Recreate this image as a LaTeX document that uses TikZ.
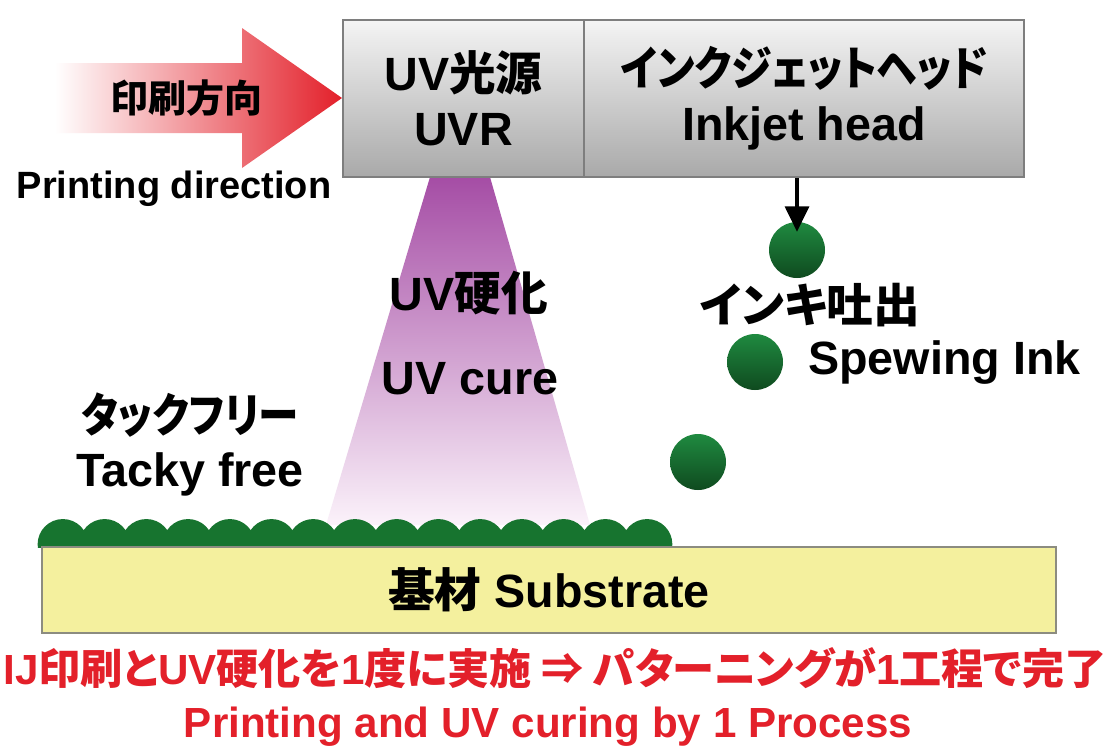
\documentclass[tikz,border=0pt]{standalone}
\usepackage{graphicx}
\usepackage{fontspec}
\setmainfont{Liberation Sans}
\newfontfamily\jpf{Noto Sans CJK JP}[RawFeature=+palt]
\newcommand{\JP}[1]{{\jpf #1}}
\usetikzlibrary{arrows.meta}
\definecolor{arrowred}{HTML}{E3202A}
\definecolor{boxtop}{HTML}{F4F4F4}
\definecolor{boxbot}{HTML}{A9A9A9}
\definecolor{boxline}{HTML}{7E7E7E}
\definecolor{conetop}{HTML}{A54DA5}
\definecolor{conebot}{HTML}{FBF2FA}
\definecolor{inkgreen}{HTML}{17742F}
\definecolor{dropA}{HTML}{1F8A40}
\definecolor{dropB}{HTML}{0F4A1F}
\definecolor{subfill}{HTML}{F4F09E}
\definecolor{subline}{HTML}{8C8C80}
\definecolor{redtext}{HTML}{E3202A}
\def\u{0.75pt}
\tikzset{
  lbl/.style={font=\bfseries\fontsize{35}{41.25}\selectfont, inner sep=0pt, align=center},
  smalllbl/.style={font=\bfseries\fontsize{28.5}{34}\selectfont, inner sep=0pt, align=center},
  redlbl/.style={font=\bfseries\fontsize{31.6}{37}\selectfont, inner sep=0pt, text=redtext},
  headbox/.style={lbl, draw=boxline, line width=1.6pt, top color=boxtop, bottom color=boxbot, minimum height=157*\u},
  drop/.style={circle, minimum size=56*\u, inner sep=0pt, top color=dropA, bottom color=dropB},
  substrate/.style={lbl, draw=subline, line width=1.6pt, fill=subfill, minimum width=1014*\u, minimum height=86*\u},
  darr/.style={draw=black, line width=2.3pt, -{Triangle[length=19pt, width=18pt]}}
}
\begin{document}
\begin{tikzpicture}[x=0.75pt, y=-0.75pt]
\useasboundingbox[fill=white] (0,0) rectangle (1110,751);

% printing direction arrow
\shade[left color=white, right color=arrowred, middle color=arrowred!50]
  (55,63) -- (242,63) -- (242,28) -- (342,98) -- (242,168) -- (242,133) -- (55,133) -- cycle;
\node[smalllbl] (dirjp) at (186,98) {\JP{印刷方向}};
\node[smalllbl, anchor=base] (dir) at (174,198) {Printing direction};

% UV cone
\shade[top color=conetop, bottom color=conebot]
  (430,177) -- (490,177) -- (590,525) -- (326,525) -- cycle;
\node[lbl] (uvjp) at (469,293) {UV\JP{硬化}};
\node[lbl, anchor=base] (uven) at (470,394) {UV cure};

% head boxes
\node[headbox, minimum width=241*\u] (uvr) at (463.5,98.5) {UV\JP{光源}\\UVR};
\node[headbox, minimum width=440*\u] (ij) at (804,98.5) {\scalebox{0.88}[1]{\JP{インクジェットヘッド}}\\Inkjet head};

% droplets
\node[drop] (d1) at (797,250) {};
\node[drop] (d2) at (755,362) {};
\node[drop] (d3) at (698,462) {};
\draw[darr] (d1 |- ij.south) -- ([yshift=-7.5pt]d1.north);
\node[lbl] (spjp) at (810,305) {\JP{インキ吐出}};
\node[lbl, anchor=base west] (spen) at (808,374) {Spewing Ink};

% tacky free
\node[lbl] (tfjp) at (190,415) {\scalebox{0.87}[1]{\JP{タックフリー}}};
\node[lbl, anchor=base] (tfen) at (190,486) {Tacky free};

% cured ink layer
\begin{scope}
  \clip (0,0) rectangle (1110,547);
  \fill[inkgreen] (42,531) rectangle (668,547);
  \foreach \i in {0,...,14} {
    \fill[inkgreen] ({62.87+41.73*\i},544.3) circle[radius=25.26];
  }
\end{scope}

% substrate
\node[substrate] (sub) at (549,590) {\JP{基材} Substrate};

% bottom red text
\node[redlbl] (res1) at (555,668) {IJ\JP{印刷と}UV\JP{硬化を}1\JP{度に実施 ⇒ パターニングが}1\JP{工程で完了}};
\node[redlbl, anchor=base] (res2) at (548,737) {Printing and UV curing by 1 Process};
\end{tikzpicture}
\end{document}
